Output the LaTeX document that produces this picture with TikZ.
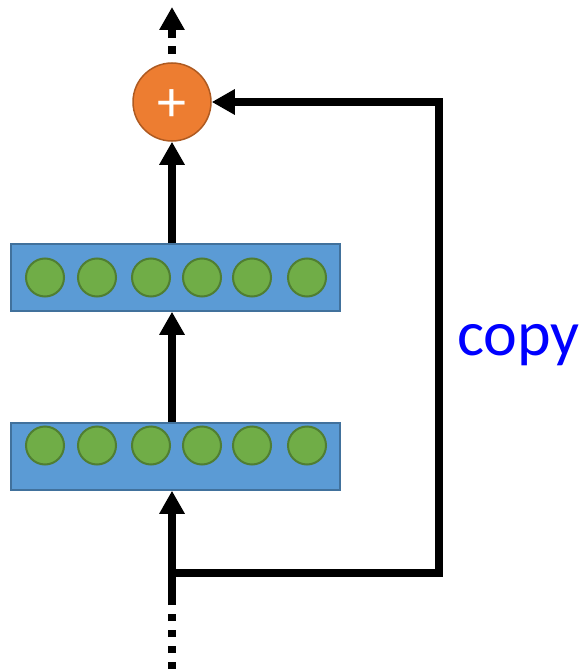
\documentclass[tikz,border=0pt]{standalone}
\usepackage{fontspec}
\setmainfont{Carlito}
\usetikzlibrary{arrows.meta}
\definecolor{layerblue}{HTML}{5B9BD5}
\definecolor{layeredge}{HTML}{41719C}
\definecolor{unitgreen}{HTML}{70AD47}
\definecolor{unitedge}{HTML}{507E32}
\definecolor{sumorange}{HTML}{ED7D31}
\definecolor{sumedge}{HTML}{AE5A21}
\tikzset{
  layer/.style={draw=layeredge, fill=layerblue, line width=1.5pt,
    minimum width=329pt, minimum height=67pt, inner sep=0pt},
  unit/.style={circle, draw=unitedge, fill=unitgreen, line width=2pt,
    minimum size=38pt, inner sep=0pt},
  sumnode/.style={circle, draw=sumedge, fill=sumorange, line width=1.5pt,
    minimum size=78pt, inner sep=0pt},
  flow/.style={line width=8pt, line cap=butt,
    -{Triangle[width=24pt,length=23pt]}},
  wire/.style={line width=8pt, line cap=butt},
  dots/.style={line width=8pt, line cap=butt, dash pattern=on 7.5pt off 8.5pt}
}
\begin{document}
\begin{tikzpicture}[x=1pt,y=-1pt]
  \useasboundingbox (0,0) rectangle (580,669);

  % the two hidden layers
  \node[layer] (lay1) at (175.5,277.5) {};
  \node[layer] (lay2) at (175.5,456.5) {};
  \foreach \x [count=\i] in {45,97,151,202,252,307} {
    \node[unit] (u1\i) at (\x,277.5) {};
    \node[unit] (u2\i) at (\x,445.5) {};
  }

  % the addition
  \node[sumnode] (sum) at (172,102) {};
  \node[text=white, font=\fontsize{58}{58}\selectfont, yshift=-4pt]
        (plus) at (sum.center) {+};

  % helper points
  \coordinate (outtop) at (172,7);
  \coordinate (intop) at (172,604);
  \coordinate (inbot) at (172,669);
  \coordinate (split) at (172,573);
  \coordinate (cornerlow) at (439,573);
  \coordinate (cornerhigh) at (439,102);

  % main stream
  \draw[dots] (inbot) -- (intop);
  \draw[flow] (intop) -- (lay2.south -| intop);
  \draw[flow] (lay2.north -| sum) -- (lay1.south -| sum);
  \draw[flow] (lay1.north -| sum) -- (sum.south);
  \draw[line width=8pt, line cap=butt, dash pattern=on 8pt off 8pt,
        dash phase=8pt, -{Triangle[width=24pt,length=23pt]}]
        (sum.north) -- (outtop);

  % skip connection
  \draw[wire, line join=miter, -{Triangle[width=24pt,length=23pt]}]
        ([xshift=-4pt]split) -- (cornerlow) -- (cornerhigh) -- (sum.east);
  \node[text=blue, font=\fontsize{64}{64}\selectfont, anchor=base west,
        inner sep=0pt] (copylbl) at (457,355) {copy};
\end{tikzpicture}
\end{document}
